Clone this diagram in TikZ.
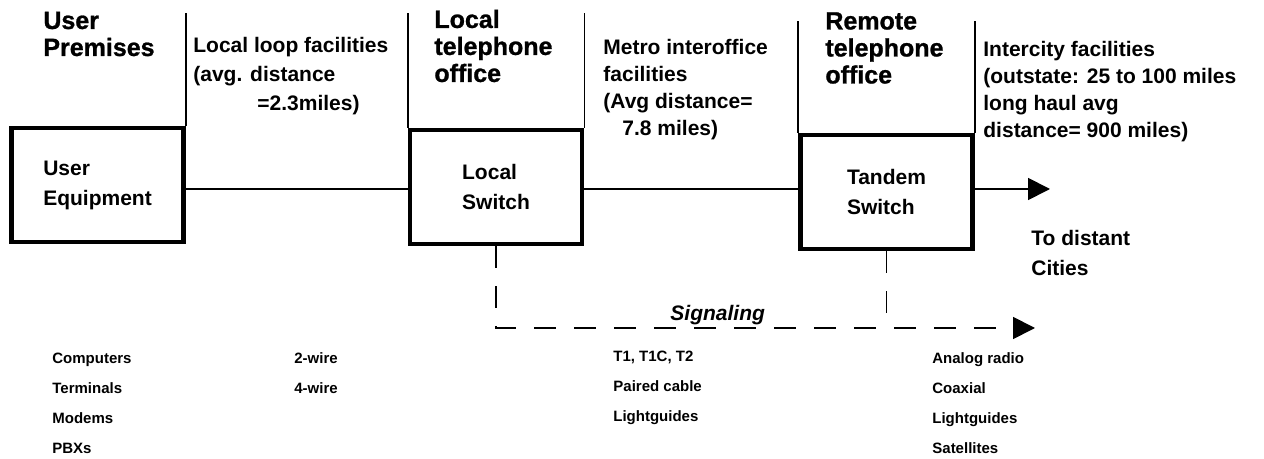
\documentclass[tikz,border=0pt]{standalone}
\usepackage{fontspec}
\setmainfont{Liberation Sans}
\newfontfamily\headfont[FakeBold=1]{Liberation Sans Bold}
\usetikzlibrary{arrows.meta}

\tikzset{
  office/.style={draw, line width=2.4pt, minimum width=86pt, minimum height=57pt,
    inner sep=0pt, align=left, font=\fontsize{10.5}{15}\selectfont\bfseries},
  heading/.style={anchor=west, inner sep=0pt, align=left,
    font=\headfont\fontsize{12.5}{13.5}\selectfont},
  remark/.style={anchor=west, inner sep=0pt, align=left,
    font=\fontsize{10.5}{14}\selectfont\bfseries},
  media/.style={anchor=west, inner sep=0pt, align=left,
    font=\fontsize{7.5}{15}\selectfont\bfseries},
  rule/.style={line width=0.9pt},
  sigline/.style={line width=0.9pt, dash pattern=on 11pt off 9pt},
  tip/.style={-{Triangle[length=11pt,width=11pt]}},
}

\begin{document}
\begin{tikzpicture}[x=0.5pt, y=-0.5pt]
\useasboundingbox (0,0) rectangle (1264,459);

% Switching offices
\node[office] (ue) at (97.5,185) {User\\Equipment};
\node[office] (ls) at (496,187) {Local\\Switch};
\node[office] (ts) at (886.5,192) {Tandem\\Switch};

\coordinate (topA) at (0,13);
\coordinate (topB) at (0,21);
\coordinate (wire) at (0,189);
\coordinate (far) at (1050,189);
\coordinate (sig) at (1035,328);

% Column rules
\draw[rule] (ue.north east) -- (ue.north east |- topA);
\draw[rule] (ls.north west) -- (ls.north west |- topA);
\draw[rule] (ls.north east) -- (ls.north east |- topA);
\draw[rule] (ts.north west) -- (ts.north west |- topB);
\draw[rule] (ts.north east) -- (ts.north east |- topB);

% Transmission facilities
\draw[rule] (ue.east |- wire) -- (ls.west |- wire);
\draw[rule] (ls.east |- wire) -- (ts.west |- wire);
\draw[rule, tip] (ts.east |- wire) -- (far);

% Signaling path
\draw[sigline, tip] (ls.south) -- (ls.south |- sig) -- (sig);
\draw[sigline] (ts.south) -- (ts.south |- sig);
\node[remark, font=\fontsize{10.5}{14}\selectfont\bfseries\itshape] (signal) at (670,315) {Signaling};

% Headings
\node[heading] (premises) at (43,34) {User\\Premises};
\node[heading] (localoff) at (434,46) {Local\\telephone\\office};
\node[heading] (remoteoff) at (825,48) {Remote\\telephone\\office};

% Facility notes
\node[remark, font=\fontsize{10.5}{14.5}\selectfont\bfseries] (loop) at (193,76)
  {Local loop facilities\\(avg. distance\\\hspace*{32pt}=2.3miles)};
\node[remark, font=\fontsize{10.5}{13.5}\selectfont\bfseries] (metro) at (603,89.5)
  {Metro interoffice\\facilities\\(Avg distance=\\\hspace*{9.5pt}7.8 miles)};
\node[remark, font=\fontsize{10.5}{13.5}\selectfont\bfseries] (intercity) at (983,91.5)
  {Intercity facilities\\(outstate: 25 to 100 miles\\long haul avg\\distance= 900 miles)};
\node[remark, font=\fontsize{10.5}{15}\selectfont\bfseries] (distant) at (1031,253) {To distant\\Cities};

% Equipment and media lists
\node[media] (equip) at (52,403) {Computers\\Terminals\\Modems\\PBXs};
\node[media] (wires) at (294,373) {2-wire\\4-wire};
\node[media] (carrier) at (613,388) {T1, T1C, T2\\Paired cable\\Lightguides};
\node[media] (longhaul) at (932,403) {Analog radio\\Coaxial\\Lightguides\\Satellites};
\end{tikzpicture}
\end{document}
